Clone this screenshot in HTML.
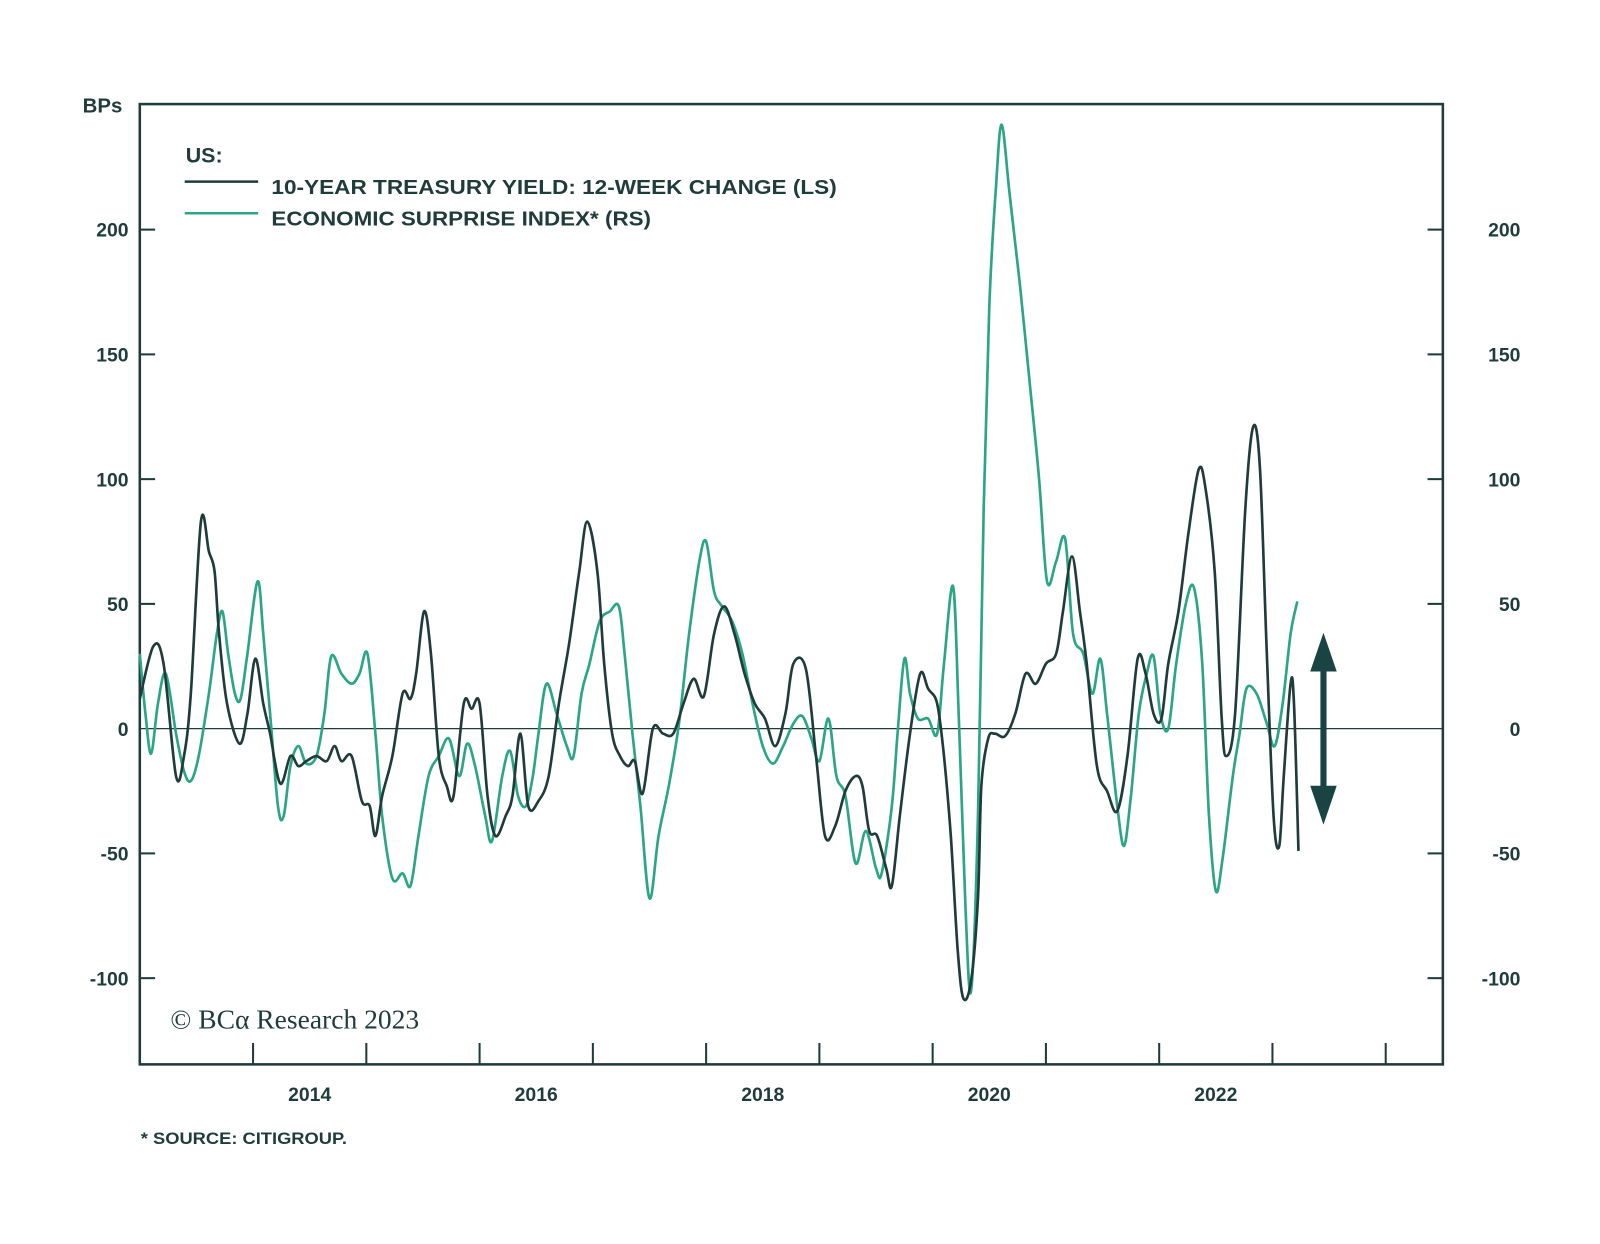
<!DOCTYPE html>
<html><head><meta charset="utf-8"><style>
html,body{margin:0;padding:0;background:#fff;width:1600px;height:1244px;overflow:hidden}
svg text{font-family:"Liberation Sans",sans-serif;fill:#1f3b3a}
</style></head><body>
<svg id="chart" width="1600" height="1244" viewBox="0 0 1568 1219" preserveAspectRatio="none" xmlns="http://www.w3.org/2000/svg">
<rect x="0" y="0" width="1568" height="1219" fill="#fff"/>
<g id="axes"></g>
<g id="series"></g>
<text x="81" y="110" font-size="20" font-weight="bold">BPs</text>
<text x="182" y="159" font-size="21" font-weight="bold">US:</text>
<line x1="181" y1="178" x2="253" y2="178" stroke="#1f3b3a" stroke-width="2.5"/>
<text x="266" y="190" font-size="20" font-weight="bold" textLength="554" lengthAdjust="spacingAndGlyphs">10-YEAR TREASURY YIELD: 12-WEEK CHANGE (LS)</text>
<line x1="181" y1="209" x2="253" y2="209" stroke="#2aa585" stroke-width="2.5"/>
<text x="266" y="221" font-size="20" font-weight="bold" textLength="372" lengthAdjust="spacingAndGlyphs">ECONOMIC SURPRISE INDEX* (RS)</text>
<text x="167" y="1008" font-size="27" style="font-family:'Liberation Serif',serif">© BCα Research 2023</text>
<text x="138" y="1121" font-size="16" font-weight="bold" textLength="202" lengthAdjust="spacingAndGlyphs">* SOURCE: CITIGROUP.</text>
<g>
<line x1="1297" y1="650" x2="1297" y2="780" stroke="#1a4444" stroke-width="6"/>
<polygon points="1297,620 1284,658 1310,658" fill="#1a4444"/>
<polygon points="1297,808 1284,770 1310,770" fill="#1a4444"/>
</g>
</svg>
<script>
const treasuryDates=[2013.00,2013.12,2013.21,2013.32,2013.39,2013.45,2013.54,2013.61,2013.66,2013.70,2013.77,2013.88,2013.95,2014.02,2014.09,2014.15,2014.24,2014.33,2014.40,2014.47,2014.56,2014.65,2014.72,2014.78,2014.87,2014.96,2015.03,2015.08,2015.14,2015.23,2015.32,2015.39,2015.44,2015.51,2015.57,2015.64,2015.71,2015.77,2015.86,2015.93,2016.00,2016.07,2016.14,2016.23,2016.29,2016.36,2016.43,2016.52,2016.61,2016.70,2016.79,2016.88,2016.95,2017.04,2017.10,2017.17,2017.24,2017.31,2017.37,2017.44,2017.53,2017.62,2017.71,2017.80,2017.89,2017.98,2018.07,2018.16,2018.25,2018.34,2018.43,2018.52,2018.61,2018.70,2018.77,2018.88,2018.97,2019.05,2019.14,2019.23,2019.32,2019.38,2019.44,2019.51,2019.59,2019.64,2019.71,2019.80,2019.89,2019.96,2020.04,2020.10,2020.16,2020.22,2020.27,2020.34,2020.40,2020.43,2020.49,2020.55,2020.64,2020.73,2020.82,2020.91,2021.00,2021.09,2021.15,2021.23,2021.30,2021.36,2021.45,2021.54,2021.63,2021.72,2021.81,2021.88,2021.95,2022.02,2022.08,2022.17,2022.26,2022.35,2022.41,2022.49,2022.55,2022.59,2022.67,2022.76,2022.83,2022.89,2022.95,2023.01,2023.06,2023.10,2023.16,2023.19,2023.23];
const treasuryValues=[12,33,26,-19,-11,14,83,71,63,38,10,-6,6,28,10,-2,-22,-11,-15,-13,-11,-13,-7,-13,-11,-29,-31,-43,-27,-11,14,12,22,47,30,-11,-23,-27,10,8,10,-27,-43,-35,-27,-2,-31,-29,-19,10,34,63,83,63,26,-2,-11,-15,-13,-26,0,-2,-2,10,20,13,38,49,38,22,10,4,-7,6,26,24,-11,-43,-39,-25,-19,-23,-41,-43,-56,-63,-35,-2,22,16,10,-11,-43,-88,-108,-101,-68,-23,-4,-2,-3,6,22,18,26,30,47,69,47,26,-15,-25,-33,-11,28,22,6,4,26,47,79,104,96,63,6,-11,6,88,121,104,30,-35,-47,-19,18,10,-49];
const surpriseDates=[2013.00,2013.05,2013.10,2013.16,2013.23,2013.32,2013.39,2013.45,2013.52,2013.61,2013.68,2013.73,2013.78,2013.84,2013.89,2013.95,2014.04,2014.09,2014.15,2014.22,2014.27,2014.33,2014.40,2014.47,2014.56,2014.63,2014.69,2014.78,2014.87,2014.94,2015.01,2015.08,2015.14,2015.23,2015.32,2015.39,2015.46,2015.55,2015.64,2015.73,2015.82,2015.89,2015.96,2016.05,2016.11,2016.20,2016.27,2016.34,2016.41,2016.47,2016.52,2016.59,2016.68,2016.77,2016.83,2016.90,2016.97,2017.06,2017.15,2017.23,2017.28,2017.35,2017.42,2017.50,2017.58,2017.67,2017.76,2017.85,2017.94,2018.00,2018.07,2018.14,2018.23,2018.32,2018.41,2018.50,2018.59,2018.68,2018.77,2018.85,2018.93,2019.00,2019.08,2019.15,2019.23,2019.32,2019.41,2019.50,2019.55,2019.64,2019.69,2019.75,2019.80,2019.87,2019.96,2020.04,2020.10,2020.18,2020.23,2020.29,2020.34,2020.40,2020.45,2020.50,2020.56,2020.61,2020.68,2020.77,2020.86,2020.94,2021.01,2021.09,2021.17,2021.24,2021.33,2021.41,2021.48,2021.54,2021.63,2021.69,2021.75,2021.82,2021.89,2021.95,2022.01,2022.08,2022.15,2022.24,2022.31,2022.38,2022.44,2022.50,2022.56,2022.65,2022.71,2022.77,2022.86,2022.95,2023.02,2023.09,2023.16,2023.22];
const surpriseValues=[30,6,-10,10,22,-2,-17,-21,-11,14,38,47,30,14,12,30,59,38,6,-31,-35,-15,-7,-14,-11,6,29,22,18,22,30,-2,-35,-60,-58,-63,-43,-19,-11,-4,-19,-6,-15,-35,-45,-19,-9,-27,-31,-19,-2,18,6,-7,-11,14,26,43,47,49,30,-2,-31,-68,-43,-23,2,38,67,75,55,49,43,30,10,-7,-14,-7,2,5,-4,-13,4,-19,-27,-54,-41,-56,-58,-31,-2,28,14,4,4,-2,26,57,6,-72,-105,-35,88,169,218,242,214,178,137,100,59,67,76,38,30,14,28,6,-31,-47,-27,6,22,29,6,0,26,51,56,26,-35,-65,-52,-19,-2,16,14,2,-7,10,38,51];
const yTicks=[-100,-50,0,50,100,150,200];
const xYears=[2014,2016,2018,2020,2022];

const NS='http://www.w3.org/2000/svg';
const L=137,R=1414,T=102,B=1043;
const xScale=d=>L+(d-2013)*111;
const yScale=v=>714-v*2.445;
function mk(tag,attrs,parent){const e=document.createElementNS(NS,tag);for(const k in attrs)e.setAttribute(k,attrs[k]);parent.appendChild(e);return e;}
const axes=document.getElementById('axes');
const series=document.getElementById('series');
const frame=mk('rect',{x:L,y:T,width:R-L,height:B-T,fill:'none',stroke:'#1f3b3a','stroke-width':2.5},axes);


const zl=mk('line',{x1:L,x2:R,y1:yScale(0),y2:yScale(0),stroke:'#1f3b3a','stroke-width':1.3},axes);


yTicks.forEach(v=>{
  const y=yScale(v);
  if(v!==0){mk('line',{x1:L,x2:L+15,y1:y,y2:y,stroke:'#1f3b3a','stroke-width':2},axes);
  mk('line',{x1:R-15,x2:R,y1:y,y2:y,stroke:'#1f3b3a','stroke-width':2},axes);}
  const tl=mk('text',{x:126,y:y+7,'text-anchor':'end','font-size':19,'font-weight':'bold'},axes);
  tl.textContent=v;
  
  
  const tr=mk('text',{x:1490,y:y+7,'text-anchor':'end','font-size':19,'font-weight':'bold'},axes);
  tr.textContent=v;
  
  
});
for(let yr=2014;yr<=2024;yr++){const x=xScale(yr);mk('line',{x1:x,x2:x,y1:B-21,y2:B,stroke:'#1f3b3a','stroke-width':2},axes);}
xYears.forEach(yr=>{
  const t=mk('text',{x:xScale(yr+0.5),y:1079,'text-anchor':'middle','font-size':19,'font-weight':'bold'},axes);
  t.textContent=yr;
  
  
});
function smooth(xs,ys){
  const p=xs.map((d,i)=>[xScale(d),yScale(ys[i])]);
  let s='M'+p[0][0].toFixed(1)+','+p[0][1].toFixed(1);
  for(let i=0;i<p.length-1;i++){
    const p0=p[i-1]||p[i],p1=p[i],p2=p[i+1],p3=p[i+2]||p2;
    const c1=[p1[0]+(p2[0]-p0[0])/6,p1[1]+(p2[1]-p0[1])/6];
    const c2=[p2[0]-(p3[0]-p1[0])/6,p2[1]-(p3[1]-p1[1])/6];
    s+='C'+c1.map(v=>v.toFixed(1))+' '+c2.map(v=>v.toFixed(1))+' '+p2.map(v=>v.toFixed(1));
  }
  return s;
}
const g=mk('path',{d:smooth(surpriseDates,surpriseValues),fill:'none',stroke:'#2aa585','stroke-width':2.6,'stroke-linejoin':'round'},series);


const d=mk('path',{d:smooth(treasuryDates,treasuryValues),fill:'none',stroke:'#1f3b3a','stroke-width':2.6,'stroke-linejoin':'round'},series);


</script>
</body></html>
